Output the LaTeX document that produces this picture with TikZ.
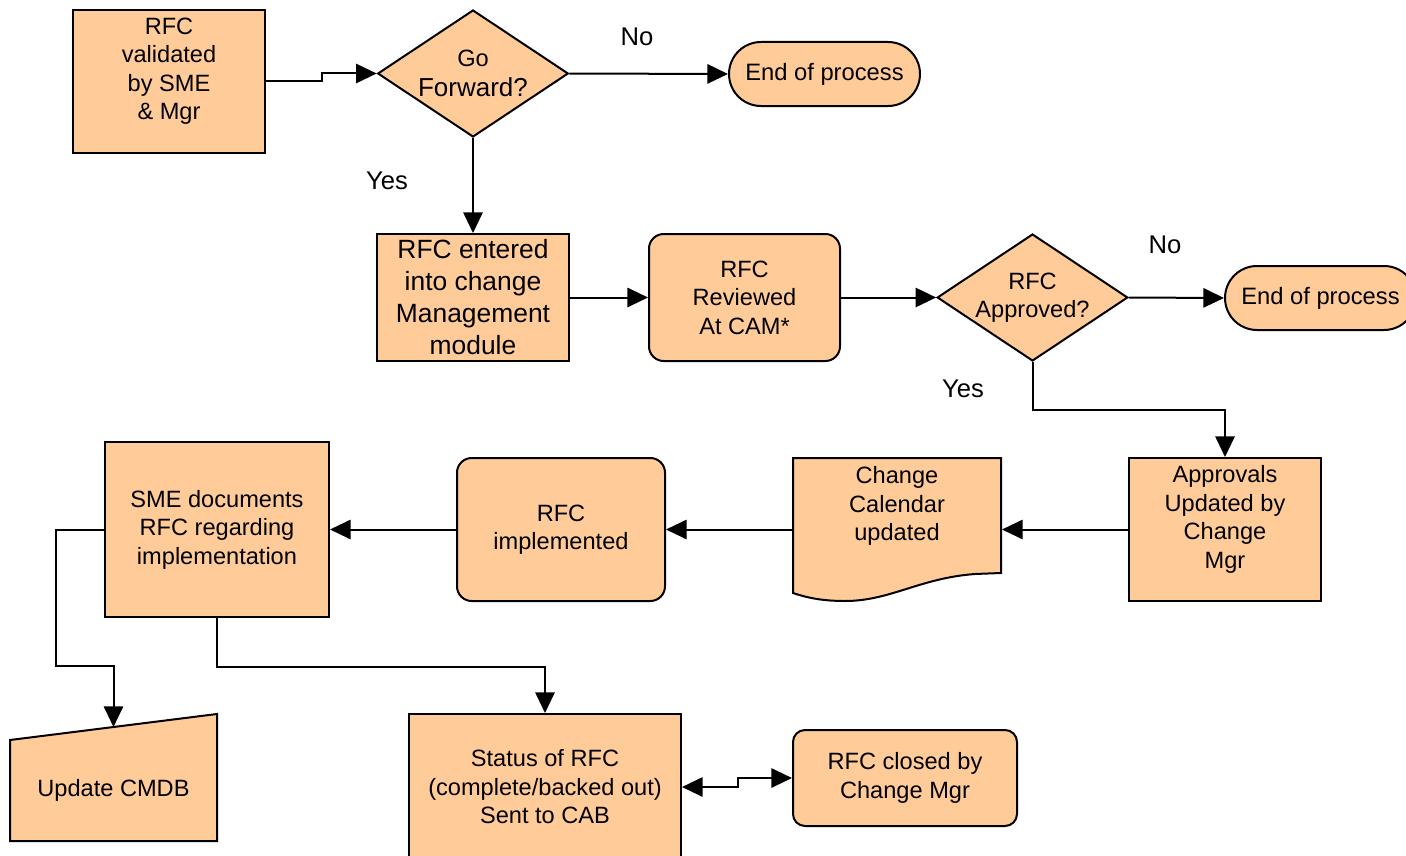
\documentclass[tikz,border=0pt]{standalone}
\usepackage{fontspec}
\setmainfont{Liberation Sans}
\usetikzlibrary{shapes.geometric,arrows.meta}
\definecolor{boxfill}{RGB}{255,204,153}
\tikzset{every picture/.style={line width=1.5pt}}
\tikzset{
  box/.style={draw, fill=boxfill, inner sep=0pt, align=center, font=\fontsize{17.7}{21.4}\selectfont},
  rbox/.style={box, rounded corners=11pt},
  term/.style={box, rounded corners=24pt, minimum width=143.25pt, minimum height=48pt, font=\fontsize{17.8}{21.4}\selectfont},
  decision/.style={box, diamond, shape aspect=1.5, inner sep=-4pt, minimum width=143pt, minimum height=95.25pt},
  txt/.style={inner sep=0pt, align=center, font=\fontsize{17.7}{21.4}\selectfont},
  lbl/.style={inner sep=0pt, font=\fontsize{19.2}{23}\selectfont},
  arr/.style={-{Triangle[length=15.5pt,width=14.5pt]}},
  dblarr/.style={{Triangle[length=15.5pt,width=14.5pt]}-{Triangle[length=15.5pt,width=14.5pt]}},
}
\begin{document}
\begin{tikzpicture}[x=0.75pt,y=0.75pt,yscale=-1,xscale=1]
\useasboundingbox (0,0) rectangle (1406,856);

%Shape: Rectangle [validated]
\node[box, minimum width=144pt, minimum height=107.25pt] (A) at (169,81.5) {};
% Text Node
\node[txt] (Atxt) at ([yshift=-7.75pt]A.center) {RFC\\validated\\by SME\\ \& Mgr};
%Shape: Diamond [go forward]
\node[decision] (B) at (473,73.5) {Go\\[1pt]{\fontsize{19.5}{23}\selectfont Forward?}};
%Shape: Terminal [end 1]
\node[term] (C) at (824.5,74) {End of process};
%Shape: Rectangle [entered]
\node[box, minimum width=144pt, minimum height=95.25pt, font=\fontsize{19.8}{24}\selectfont] (D) at (473,297.5) {RFC entered\\into change\\Management\\module};
%Shape: Rounded Rect [reviewed]
\node[rbox, minimum width=143.25pt, minimum height=95.25pt] (E) at (744.5,297.5) {RFC\\Reviewed\\At CAM*};
%Shape: Diamond [approved]
\node[decision] (F) at (1032.5,297.5) {RFC\\Approved?};
%Shape: Terminal [end 2]
\node[term] (G) at (1320.5,298) {End of process};
%Shape: Rectangle [approvals]
\node[box, minimum width=144pt, minimum height=107.25pt] (H) at (1225,529.5) {};
% Text Node
\node[txt] (Htxt) at ([yshift=-7.5pt]H.center) {Approvals\\Updated by\\Change\\Mgr};
%Shape: Document [calendar]
\draw[fill=boxfill] (793,458) -- (1001,458) -- (1001,573) -- (975,574) .. controls (920,578) and (890,601) .. (845,601) .. controls (820,601) and (805,597) .. (793,593) -- cycle;
% Text Node
\node[txt, minimum width=156pt] (I) at (897,506) {Change\\Calendar\\updated};
%Shape: Rounded Rect [implemented]
\node[rbox, minimum width=156pt, minimum height=107.25pt] (J) at (561,529.5) {RFC\\implemented};
%Shape: Rectangle [sme documents]
\node[box, minimum width=168pt, minimum height=131.25pt] (K) at (217,529.5) {SME documents\\RFC regarding\\implementation};
%Shape: Manual Input [cmdb]
\draw[fill=boxfill] (10,740) -- (217,714) -- (217,841) -- (10,841) -- cycle;
\coordinate (Ltop) at (113.5,727);
% Text Node
\node[txt] (L) at (113.5,790) {Update CMDB};
%Shape: Rectangle [status]
\node[box, minimum width=204pt, minimum height=109.5pt] (M) at (545,787) {Status of RFC\\(complete/backed out)\\Sent to CAB};
%Shape: Rounded Rect [closed]
\node[rbox, rounded corners=9pt, minimum width=168pt, minimum height=72pt] (N) at (905,778) {RFC closed by\\Change Mgr};

%Straight Lines
\draw[arr] (A.east) -- ++(56,0) |- (B.west);
\draw[arr] (B.east) -- (C.west);
\draw[arr] (B.south) -- (D.north);
\draw[arr] (D.east) -- (E.west);
\draw[arr] (E.east) -- (F.west);
\draw[arr] (F.east) -- (G.west);
\draw[arr] (F.south) -- ++(0,48) -| (H.north);
\draw[arr] (H.west) -- (H.west -| I.east);
\draw[arr] (I.west |- J.east) -- (J.east);
\draw[arr] (J.west) -- (K.west -| K.east);
\draw[arr] (K.west) -- ++(-48,0) -- ++(0,136) -| (Ltop);
\draw[arr] (K.south) -- ++(0,49) -| (M.north);
\draw[dblarr] (M.east) -- ++(56,0) |- (N.west);

% Text Node
\node[lbl] (no1) at (637,37) {No};
\node[lbl] (yes1) at (387,181) {Yes};
\node[lbl] (no2) at (1165,245) {No};
\node[lbl] (yes2) at (963,389) {Yes};

\end{tikzpicture}
\end{document}
